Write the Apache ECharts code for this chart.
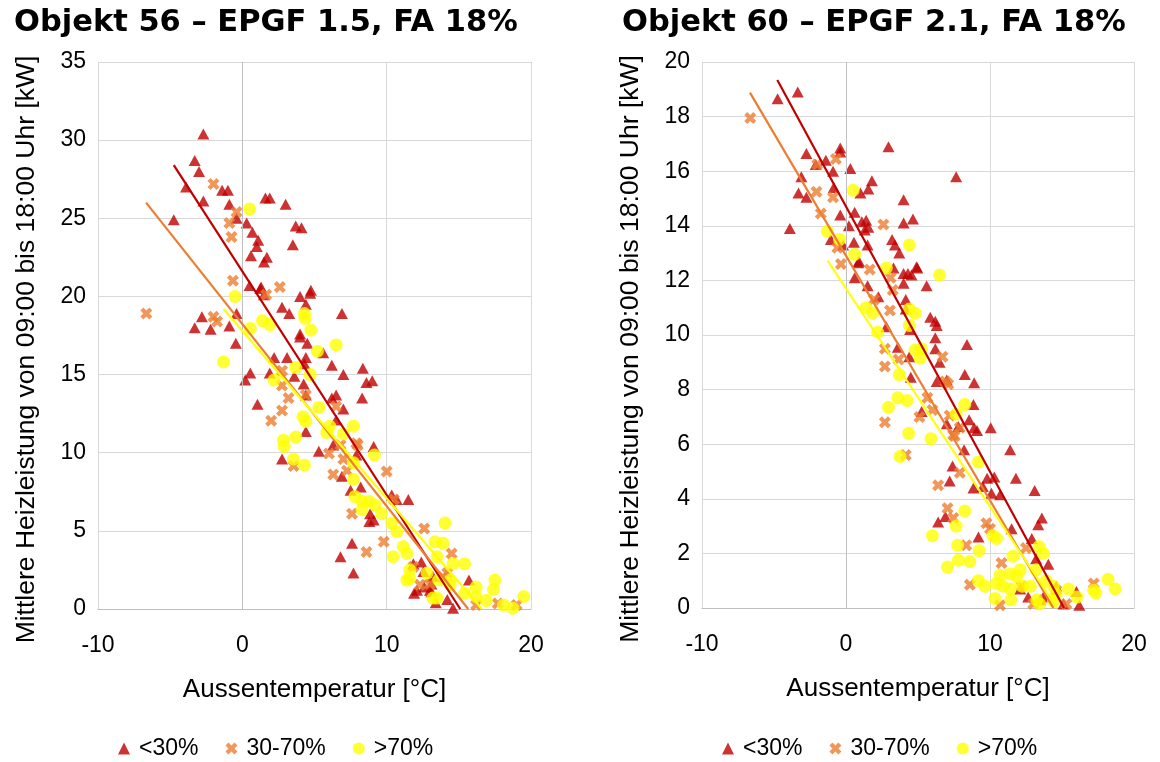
<!DOCTYPE html>
<html>
<head>
<meta charset="utf-8">
<script src="https://cdn.jsdelivr.net/npm/echarts@6/dist/echarts.min.js"></script>
<style>
html,body{margin:0;padding:0;background:#fff;}
#c{width:1160px;height:762px;}
</style>
</head>
<body>
<div id="c"></div>
<script>
// ---- Titles / labels ----
const titles = ['Objekt 56 – EPGF 1.5, FA 18%', 'Objekt 60 – EPGF 2.1, FA 18%'];
const yName = 'Mittlere Heizleistung von 09:00 bis 18:00 Uhr [kW]';
const xName = 'Aussentemperatur [°C]';
const groups = ['<30%', '30-70%', '>70%'];
const xRange = [-10, 20, 10];
const yRangeA = [0, 35, 5];
const yRangeB = [0, 20, 2];

// ---- Objekt 56 data ----
const a_low = [[-2.7,30.4],[-3.3,28.7],[-3.0,28.0],[-3.9,27.0],[-1.4,26.8],[-1.0,26.8],[-2.7,26.1],[-0.9,25.9],[1.6,26.3],[1.9,26.3],[3.0,25.9],[-0.4,25.0],[0.3,24.7],[0.7,24.1],[1.1,23.6],[1.0,23.2],[0.6,22.6],[1.7,22.5],[1.5,22.2],[3.7,24.5],[4.1,24.4],[3.5,23.3],[0.5,20.7],[1.3,20.6],[4.75,20.4],[-4.75,24.9],[1.25,20.5],[4.0,20.0],[4.7,20.2],[2.75,19.3],[3.25,18.9],[4.4,19.5],[6.9,18.9],[1.5,20.1],[-2.8,18.7],[-3.3,18.0],[-2.2,17.9],[-0.9,18.1],[-0.4,18.9],[-0.45,17.0],[0.55,15.1],[0.2,14.65],[2.2,16.1],[3.1,16.1],[4.0,17.6],[4.0,17.4],[4.5,17.0],[4.4,16.1],[4.3,15.7],[5.6,16.4],[6.2,15.6],[8.35,15.4],[7.0,15.0],[8.6,14.5],[9.0,14.6],[8.3,13.5],[1.9,15.1],[3.6,14.9],[4.25,14.4],[1.05,13.1],[6.2,13.5],[6.5,13.7],[7.0,12.8],[4.4,11.35],[5.3,10.1],[2.75,9.6],[4.4,13.7],[6.5,12.1],[9.1,10.4],[7.9,9.85],[7.5,7.6],[8.2,7.8],[6.9,8.5],[8.85,6.1],[9.1,5.7],[8.8,5.6],[10.35,7.3],[10.7,7.0],[11.5,7.0],[7.6,4.2],[6.8,3.35],[7.7,2.3],[11.85,2.9],[11.9,1.0],[13.1,1.6],[13.1,1.1],[15.7,1.85],[12.55,2.4],[14.6,0.05],[13.0,1.2],[12.4,3.0],[13.2,2.1],[6.3,10.5],[12.1,1.2],[12.6,1.4],[13.4,0.4],[14.2,0.6]];
const a_mid = [[-2.0,27.2],[-0.4,25.4],[-0.9,24.7],[-0.75,23.8],[-0.65,21.0],[2.6,20.6],[-6.65,18.9],[-2.0,18.7],[-1.75,18.4],[1.65,20.1],[2.75,15.25],[2.75,14.3],[3.2,13.5],[4.4,13.7],[2.75,12.7],[2.0,12.05],[6.5,12.95],[6.0,9.95],[7.0,9.6],[7.9,10.6],[3.55,9.15],[6.3,8.6],[7.25,8.85],[10.0,8.8],[7.6,6.1],[8.6,3.65],[9.8,4.3],[12.6,5.15],[14.5,3.55],[12.3,1.55],[14.2,2.3],[17.7,0.35],[19.0,0.25],[10.5,7.0],[6.8,10.5],[16.2,0.25],[13.9,2.05],[11.85,2.7],[13.0,1.6],[8.0,10.5]];
const a_high = [[0.5,25.6],[-0.5,20.0],[-1.3,15.8],[0.55,17.95],[1.4,18.45],[1.9,18.2],[4.3,18.9],[4.35,18.6],[4.75,17.85],[6.5,16.9],[5.2,16.5],[3.7,15.45],[4.7,15.0],[2.2,14.65],[5.3,12.9],[4.2,12.3],[4.4,12.0],[6.05,11.7],[5.85,11.3],[7.7,11.7],[7.0,11.2],[2.85,10.8],[2.9,10.4],[3.7,11.0],[3.55,9.6],[4.3,9.2],[7.7,9.35],[9.15,9.85],[7.7,8.3],[7.8,7.2],[8.3,6.9],[8.75,6.9],[9.2,6.65],[8.3,6.35],[9.65,6.1],[10.35,5.5],[10.7,4.95],[14.05,5.5],[13.35,4.3],[13.9,4.2],[11.15,4.0],[11.4,3.55],[10.45,3.35],[13.5,3.35],[14.6,2.9],[15.4,2.9],[11.6,2.5],[11.6,1.95],[12.8,2.3],[13.6,1.85],[14.4,1.55],[15.4,1.0],[16.2,1.4],[16.9,0.55],[17.5,1.85],[17.4,1.25],[18.1,0.25],[18.75,0.05],[19.5,0.8],[13.2,0.7],[13.5,0.7],[14.4,1.85],[11.4,1.85],[16.2,0.8]];
const a_trendLow = [[-4.75,28.4],[15.1,0]];
const a_trendMid = [[-6.67,26.0],[15.65,0]];
const a_trendHigh = [[-1.3,19.2],[16.6,0]];

// ---- Objekt 60 data ----
const b_low = [[-4.75,18.65],[-3.35,18.9],[2.95,16.9],[-0.4,16.85],[-0.4,16.7],[-2.75,16.65],[-1.4,16.4],[-2.1,16.25],[0.3,16.1],[-3.1,15.8],[-0.9,16.0],[7.65,15.8],[1.8,15.65],[1.55,15.35],[1.0,15.2],[-0.85,15.4],[-3.3,15.2],[-2.75,15.05],[4.0,14.95],[-3.9,13.9],[-0.4,14.4],[0.6,14.5],[1.1,14.15],[1.4,14.2],[1.55,13.95],[0.2,14.0],[1.3,13.85],[4.0,14.1],[4.65,14.25],[3.2,13.5],[3.4,13.3],[3.7,13.0],[-1.05,13.5],[0.55,13.4],[1.5,13.3],[-0.2,13.3],[0.9,12.7],[4.9,12.5],[0.85,12.65],[3.3,12.45],[4.0,12.25],[4.3,12.25],[4.55,12.2],[4.95,12.45],[0.6,12.1],[1.5,11.8],[4.0,11.9],[5.6,11.8],[2.25,11.4],[4.15,11.3],[4.15,10.95],[5.85,10.65],[6.2,10.5],[6.3,10.35],[2.8,10.3],[4.45,10.2],[6.2,9.9],[8.4,9.65],[3.6,9.55],[6.2,9.5],[4.4,9.2],[6.5,9.0],[8.25,8.55],[4.5,8.45],[8.9,8.25],[6.3,8.3],[7.0,8.35],[8.85,7.45],[5.25,7.2],[7.0,6.75],[8.55,6.9],[7.8,6.65],[8.9,6.6],[9.1,6.5],[10.05,6.6],[8.2,5.8],[11.4,5.8],[7.4,5.2],[7.2,4.65],[8.85,4.4],[9.5,4.45],[9.8,4.75],[10.3,4.8],[10.1,4.2],[10.7,4.15],[11.8,4.75],[13.1,4.3],[6.9,3.35],[13.6,3.3],[13.35,3.05],[11.5,2.9],[9.2,2.6],[12.9,2.55],[13.2,1.8],[14.05,1.6],[12.1,0.7],[13.7,0.4],[13.5,0.3],[14.6,0.8],[15.1,0.15],[16.2,0.1],[16.0,0.6],[12.65,0.4],[6.4,3.15]];
const b_mid = [[-0.7,16.45],[-2.0,16.25],[-2.05,15.25],[-0.9,15.05],[-1.75,14.45],[2.6,14.05],[-0.6,13.2],[-0.35,12.6],[-6.65,17.95],[1.65,12.4],[3.1,12.1],[3.25,11.65],[1.95,11.3],[2.7,9.5],[2.7,8.85],[3.65,9.1],[6.7,9.2],[6.9,8.3],[7.1,8.2],[5.65,7.7],[6.0,7.25],[5.1,7.0],[2.7,6.8],[7.2,7.05],[7.45,6.35],[7.9,6.6],[4.15,5.6],[3.05,10.9],[7.55,6.3],[7.9,4.95],[6.4,4.5],[7.05,3.65],[7.45,3.3],[9.75,3.1],[10.0,2.9],[8.35,2.3],[10.8,1.65],[12.5,2.2],[8.6,0.85],[10.7,0.1],[12.2,0.8],[14.6,0.65],[15.3,0.15],[17.2,0.9],[13.0,0.15]];
const b_high = [[0.5,15.3],[-1.3,13.8],[-0.45,13.5],[0.6,12.95],[4.4,13.3],[2.8,12.45],[6.5,12.2],[1.4,11.0],[1.85,10.8],[4.4,10.95],[4.8,10.8],[4.4,10.35],[2.2,10.1],[4.8,9.45],[5.25,9.5],[5.15,9.15],[3.7,8.55],[2.95,7.35],[3.6,7.7],[4.25,7.6],[8.25,7.45],[7.65,7.1],[4.35,6.4],[5.9,6.2],[3.75,5.55],[9.2,5.35],[8.25,3.55],[7.65,3.0],[6.0,2.65],[7.75,2.3],[9.25,2.1],[7.05,1.5],[7.8,1.75],[8.6,1.7],[10.2,2.65],[10.45,2.55],[11.6,1.9],[13.4,2.25],[13.7,2.0],[13.2,1.4],[12.1,1.4],[10.7,1.2],[11.4,1.25],[11.85,1.15],[9.2,1.0],[9.65,0.8],[10.45,0.9],[10.9,0.8],[11.4,0.7],[10.35,0.35],[11.45,0.3],[12.8,0.8],[13.25,0.3],[13.45,0.15],[13.9,1.0],[14.4,0.8],[14.6,0.5],[14.4,0.25],[15.45,0.7],[16.05,0.4],[17.2,0.65],[17.35,0.55],[18.2,1.05],[18.7,0.7],[12.25,0.8]];
const b_trendLow = [[-4.77,19.34],[15.14,0]];
const b_trendMid = [[-6.67,18.88],[14.4,0]];
const b_trendHigh = [[-1.27,12.72],[14.65,0]];

// ---- styling ----
const cRed = '#C00000', cOrange = '#ED7D31', cYellow = '#FFFF00';
const crossPath = 'path://M0,2.5 L2.5,0 L5,2.5 L7.5,0 L10,2.5 L7.5,5 L10,7.5 L7.5,10 L5,7.5 L2.5,10 L0,7.5 L2.5,5 Z';
const labelFont = 'Liberation Sans';
const fs = 23;      // tick & legend labels
const nameFs = 26;  // x axis title
const yNameFs = 26.5;

function xAxis(gi) {
  return {
    type: 'value', gridIndex: gi, min: xRange[0], max: xRange[1], interval: xRange[2],
    name: xName, nameLocation: 'middle', nameGap: 68,
    nameTextStyle: {fontFamily: labelFont, fontSize: nameFs, color: '#000'},
    axisLine: {show: true, onZero: false, lineStyle: {color: '#bfbfbf', width: 1}},
    axisTick: {show: false},
    axisLabel: {fontFamily: labelFont, fontSize: fs, color: '#000', margin: 25},
    splitLine: {show: true, lineStyle: {color: '#d9d9d9', width: 1}}
  };
}
function yAxis(gi, r) {
  return {
    type: 'value', gridIndex: gi, min: r[0], max: r[1], interval: r[2],
    name: yName, nameLocation: 'middle', nameGap: 58, nameRotate: 90,
    nameTextStyle: {fontFamily: labelFont, fontSize: yNameFs, color: '#000', padding: [0, 28, 0, 0]},
    axisLine: {show: false}, axisTick: {show: false},
    axisLabel: {fontFamily: labelFont, fontSize: fs, color: '#000', margin: 12},
    splitLine: {show: true, lineStyle: {color: '#d9d9d9', width: 1}}
  };
}
function scatterSet(gi, low, mid, high) {
  return [
    {name: groups[0], type: 'scatter', xAxisIndex: gi, yAxisIndex: gi, data: low,
     symbol: 'triangle', symbolSize: [12, 11], itemStyle: {color: cRed}, z: 2,
     markLine: {silent: true, symbol: 'none', label: {show: false}, animation: false,
       lineStyle: {color: '#bfbfbf', type: 'solid', width: 1}, data: [{xAxis: 0}]}},
    {name: groups[1], type: 'scatter', xAxisIndex: gi, yAxisIndex: gi, data: mid,
     symbol: crossPath, symbolSize: 12, itemStyle: {color: cOrange}, z: 3},
    {name: groups[2], type: 'scatter', xAxisIndex: gi, yAxisIndex: gi, data: high,
     symbol: 'circle', symbolSize: 13, itemStyle: {color: cYellow}, z: 4}
  ];
}
function trendSet(gi, tl, tm, th) {
  const mk = (d, c, n) => ({name: n, type: 'line', xAxisIndex: gi, yAxisIndex: gi, data: d,
    showSymbol: false, symbol: 'none', lineStyle: {color: c, width: 2.2}, z: 6, silent: true});
  return [mk(tl, cRed, 'trend1'), mk(tm, cOrange, 'trend2'), mk(th, cYellow, 'trend3')];
}
function legend(left) {
  return {
    left: left, top: 732, orient: 'horizontal', itemWidth: 12, itemHeight: 12, itemGap: 27,
    textStyle: {fontFamily: labelFont, fontSize: fs, color: '#000', padding: [0, 0, 0, 4]},
    data: [{name: groups[0], icon: 'triangle'}, {name: groups[1], icon: crossPath}, {name: groups[2], icon: 'circle'}],
    selectedMode: false
  };
}

const titleStyle = {fontFamily: 'DejaVu Sans', fontWeight: 'bold', fontSize: 30.5, color: '#000'};
const chart = echarts.init(document.getElementById('c'), null, {renderer: 'canvas'});
chart.setOption({
  animation: false,
  backgroundColor: '#fff',
  title: [
    {text: titles[0], left: 14, top: 8, padding: 0, textStyle: titleStyle},
    {text: titles[1], left: 622, top: 8, padding: 0, textStyle: titleStyle}
  ],
  legend: [legend(113), legend(717)],
  grid: [
    {left: 98, top: 62, width: 433, height: 547},
    {left: 702, top: 62, width: 432, height: 546}
  ],
  xAxis: [xAxis(0), xAxis(1)],
  yAxis: [yAxis(0, yRangeA), yAxis(1, yRangeB)],
  series: [].concat(
    scatterSet(0, a_low, a_mid, a_high),
    scatterSet(1, b_low, b_mid, b_high),
    trendSet(0, a_trendLow, a_trendMid, a_trendHigh),
    trendSet(1, b_trendLow, b_trendMid, b_trendHigh)
  )
});
</script>
</body>
</html>
